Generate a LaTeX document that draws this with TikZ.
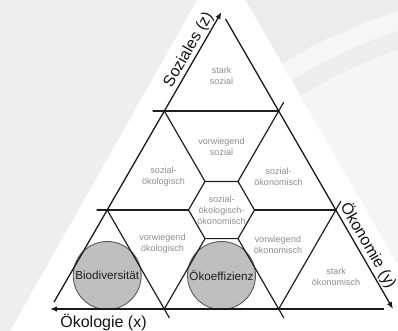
\documentclass[tikz,border=0pt]{standalone}
\usepackage{fontspec}
\setmainfont{Liberation Sans}
\usetikzlibrary{arrows.meta}
\begin{document}
\begin{tikzpicture}[x=1pt,y=-1pt,
  gridline/.style={line width=1.2pt, draw=black!88, line cap=round},
  axis/.style={line width=1.3pt, draw=black!90, -{Latex[length=7pt,width=5.5pt]}},
  cell/.style={align=center, text=black!45, font=\fontsize{9}{11}\selectfont, inner sep=0pt},
  bubble/.style={circle, draw=black!65, fill=black!25, line width=0.9pt, minimum size=68pt, inner sep=0pt, font=\fontsize{11.7}{13}\selectfont, text=black!88},
  axlabel/.style={font=\fontsize{16}{18}\selectfont, text=black!92, inner sep=0pt}]
\useasboundingbox (0,0) rectangle (398,331);
% background
\fill[white] (0,0) rectangle (398,331);
\fill[black!6.5] (0,0) -- (197,0) -- (10,331) -- (0,331) -- cycle;
\begin{scope}
  \clip (245.5,0) -- (398,264) -- (398,0) -- cycle;
  \fill[black!7.5] (0,0) rectangle (398,331);
  \fill[black!3.5] (560,520) circle[radius=534pt];
  \fill[black!7] (560,520) circle[radius=515pt];
  \fill[black!4] (560,520) circle[radius=497pt];
\end{scope}
% key points
\coordinate (A) at (221.5,12);
\coordinate (L) at (50,309);
\coordinate (R) at (393,309);
\coordinate (zs) at (54,302.1);
\coordinate (ys) at (225.5,18.9);
\coordinate (xs) at (384,309);
\coordinate (P1) at (164.3,111);
\coordinate (P2) at (278.7,111);
\coordinate (Q1) at (107.2,210);
\coordinate (Q2) at (335.8,210);
\coordinate (B1) at (164.3,309);
\coordinate (B2) at (278.7,309);
\coordinate (H1) at (188.5,210);
\coordinate (H2) at (205,181.4);
\coordinate (H3) at (238,181.4);
\coordinate (H4) at (254.5,210);
\coordinate (H5) at (238,238.6);
\coordinate (H6) at (205,238.6);
\coordinate (E0) at (153,111);
\coordinate (E1) at (283.7,102.3);
\coordinate (E2) at (97,210);
\coordinate (E3) at (169.3,317.7);
\coordinate (E4) at (283.7,317.7);
\coordinate (E5) at (340.8,201.3);
% circles
\node[bubble] (bio) at (107.2,275.5) {Biodiversität};
\node[bubble] (oko) at (221.5,275.5) {Ökoeffizienz};
% grid
\draw[gridline] (E0) -- (P2);
\draw[gridline] (E2) -- (H1);
\draw[gridline] (H4) -- (Q2);
\draw[gridline] (P1) -- (H2);
\draw[gridline] (H3) -- (E1);
\draw[gridline] (Q1) -- (E3);
\draw[gridline] (H6) -- (B1);
\draw[gridline] (H5) -- (E4);
\draw[gridline] (B2) -- (E5);
\draw[gridline] (H1) -- (H2) -- (H3) -- (H4) -- (H5) -- (H6) -- cycle;
% axes
\draw[axis] (zs) -- (A);
\draw[axis] (ys) -- (R);
\draw[axis] (xs) -- (L);
% axis labels
\node[axlabel, anchor=base] (xl) at (103.5,327) {Ökologie (x)};
\node[axlabel, anchor=base, rotate=60] (zl) at (192.5,52) {Soziales (z)};
\node[axlabel, anchor=base, rotate=-60] (yl) at (364,248) {Ökonomie (y)};
% cell labels
\node[cell] (c1) at (221.5,76) {stark\\sozial};
\node[cell] (c2) at (221.5,147) {vorwiegend\\sozial};
\node[cell] (c3) at (163.5,176.5) {sozial-\\ökologisch};
\node[cell] (c4) at (278.5,176.5) {sozial-\\ökonomisch};
\node[cell] (c5) at (221.5,210) {sozial-\\ökologisch-\\ökonomisch};
\node[cell] (c6) at (162.5,243.5) {vorwiegend\\ökologisch};
\node[cell] (c7) at (278,245) {vorwiegend\\ökonomisch};
\node[cell] (c8) at (336,276.5) {stark\\ökonomisch};
\end{tikzpicture}
\end{document}
